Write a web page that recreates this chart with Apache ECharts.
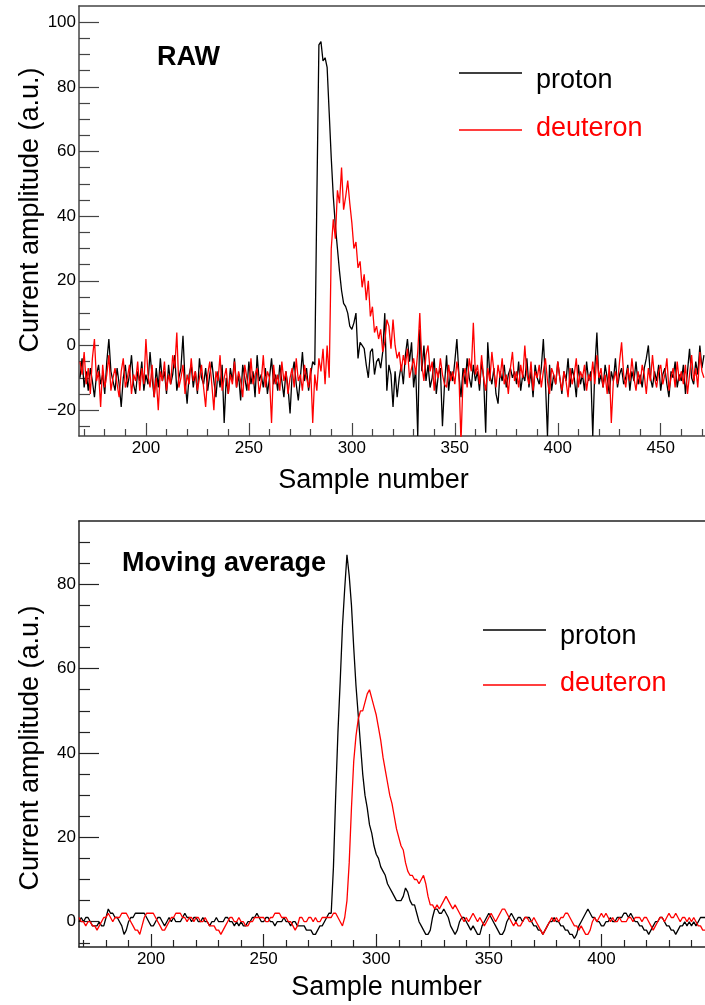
<!DOCTYPE html>
<html>
<head>
<meta charset="utf-8">
<script src="https://cdn.jsdelivr.net/npm/echarts@6/dist/echarts.min.js"></script>
<style>
  html, body { margin: 0; padding: 0; background: #fff; }
  #main { width: 705px; height: 1005px; }
</style>
</head>
<body>
<div id="main"></div>
<script>
// raw samples start at 168, moving average too
var rawStart = 168;
var maStart = 168;

var rawProton = [
  -10,-4,-13,-8,-14,-7,-11,-16,-9,-6,
  -12,-9,-15,-5,2,-8,-11,-14,-7,-12,
  -19,-10,-6,-13,-9,-3,-12,-15,-8,-11,
  -5,-14,-9,-12,-2,-10,-16,-7,-13,-4,
  -11,-8,-15,-6,-12,-9,-3,-14,-10,-7,
  3,-11,-18,-9,-6,-13,-8,-15,-4,-10,
  -12,-7,-14,-9,-5,-11,-16,-8,-13,-6,
  -24,-10,-15,-7,-11,-4,-13,-9,-17,-6,
  -10,-14,-5,-12,-8,-16,-3,-11,-9,-13,
  -7,-15,-10,-4,-12,-9,-14,-6,-11,-16,
  -8,-13,-21,-9,-5,-12,-17,-10,-2,-11,
  -7,-14,-9,-5,-6,
  45,93,94,88,89,86,72,58,46,37,
  30,23,17,13,12,10,6,5,7,10,
  -4,1,0,-1,-6,-10,-2,-1,-9,-5,
  -4,-7,-2,10,-14,-6,-9,-19,-8,-16,
  -10,-6,-12,-3,2,-5,1,-13,-7,-28,
  5,-8,0,-11,-6,-13,-10,-4,-15,-9,
  -7,-25,-12,-3,-14,-8,-11,-5,2,-9,
  -16,-7,-12,-4,-10,-13,-6,-11,-8,-14,
  -5,-10,-27,1,-9,-12,-7,-15,-18,-8,
  -11,-6,-13,-9,-7,-10,-8,-12,-5,-14,
  -9,-11,-4,-13,-8,-16,-6,-10,-12,-7,
  2,-11,-28,-6,-14,-9,-12,-5,-10,-15,
  -8,-11,-4,-13,-7,-10,-16,-6,-12,-9,
  -14,-5,-11,-8,-28,-7,4,-12,-9,-13,
  -6,-10,-15,-8,-11,-4,-13,-9,-7,-12,
  -10,-6,-14,-8,-11,-5,-12,-9,-13,-7,
  -4,0,-10,-13,-8,-11,-6,-14,-9,-7,
  -12,-16,-8,-10,-5,-13,-9,-11,-6,-15,
  -8,-1,-10,-12,-5,-9,0,-7,-3
];

var rawDeuteron = [
  -5,-9,-2,-12,-7,-15,-4,2,-11,-8,
  -19,-6,-13,-9,-3,-14,-10,-7,-12,-16,
  -8,-4,-13,-10,-6,-15,-9,-11,-5,-14,
  -7,-12,2,-9,-13,-6,-16,-10,-20,-8,
  -11,-5,-14,-9,-12,-3,-7,4,-13,-10,
  -6,-15,-9,-12,-4,-11,-8,-14,-10,-6,
  -13,-19,-9,-5,-12,-20,-8,-11,-3,-14,
  -10,-7,-15,-9,-12,-5,-13,-8,-11,-16,
  -6,-10,-14,-4,-12,-9,-7,-15,-11,-3,
  -13,-8,-10,-24,-6,-12,-9,-14,-5,-11,
  -8,-15,-10,-7,-13,-4,-11,-9,-14,-6,
  -10,-13,-7,-24,-9,
  -14,-4,-8,-1,-12,0,-10,
  30,39,33,48,44,55,42,46,51,44,
  38,30,32,24,26,18,22,14,20,9,
  12,4,6,2,5,-2,1,8,6,-1,
  8,0,-4,-2,-8,-3,-6,-1,-10,-7,
  -4,-9,-2,10,-6,-11,-3,0,-8,-5,
  -14,-7,-10,-4,-9,-12,-13,-6,-11,-8,
  -12,-5,-9,-30,-10,-7,-13,-4,-8,7,
  -9,-6,-12,-3,-10,-14,-7,-11,-2,-8,
  -13,-6,-10,-4,-12,-9,-15,-7,-2,-11,
  -8,-13,-6,-10,0,-9,-12,-5,-14,-8,
  -10,-6,-13,-8,-4,-11,-15,-7,-9,-12,
  -5,-10,-14,-8,-11,-16,-7,-12,-9,-4,
  -13,-8,-10,-6,-14,-9,-11,-5,-12,-3,
  -10,-7,-13,-9,-15,-6,-24,-11,-8,-12,
  -5,1,-9,-13,-7,-11,-4,-10,-14,-8,
  -12,-6,-9,-15,-7,-11,-3,-10,-13,-8,
  -6,-12,-9,-4,-14,-10,-7,-13,-5,-11,
  -8,-12,-6,-15,-9,-3,-11,-7,-13,-2,
  -8,-10
];

var maProton = [
  0,1,0,1,1,0,-1,-1,-1,0,
  -1,-1,1,3,2,2,1,1,0,-1,
  -3,-2,0,1,1,2,2,2,2,2,
  1,0,-1,-1,0,1,1,0,-1,0,
  1,0,1,0,0,0,1,2,1,1,
  0,1,1,0,0,1,0,0,-1,0,
  0,1,0,0,0,1,1,0,0,-1,
  0,-1,0,-1,-1,0,0,1,1,2,
  1,0,0,1,1,0,0,-1,0,0,
  0,1,0,0,-1,0,0,-1,-1,-1,
  -1,-2,-2,-2,-3,-3,-2,-1,-1,0,
  1,2,
  2,13,30,45,57,70,79,87,82,75,
  65,56,49,42,35,30,27,23,21,18,
  16,15,13,12,11,9,8,7,6,5,
  5,5,6,8,7,5,4,4,2,0,
  -1,-2,-3,-3,-2,1,3,3,2,2,
  3,2,1,-1,-2,-3,-2,0,1,1,
  0,-1,-2,-1,-2,-3,-3,-1,0,1,
  2,1,0,-1,-2,-3,-3,-2,0,1,
  2,1,0,1,1,0,1,1,1,0,
  -1,-1,-2,-2,-3,-2,-1,0,0,1,
  0,0,-1,-1,-2,-2,-3,-3,-4,-3,
  -1,0,1,2,3,2,1,1,0,0,
  -1,-1,0,0,1,0,0,1,1,1,
  2,2,1,2,1,0,0,-1,-1,-2,
  -2,-3,-2,-1,0,0,1,1,0,-1,
  -1,-2,-2,-3,-2,-1,-1,0,-1,0,
  -1,0,-1,0,1,1,1
];

var maDeuteron = [
  1,0,0,-1,0,0,-1,-1,-2,-1,
  0,1,1,2,1,0,1,1,1,2,
  2,2,1,0,-1,-2,-2,-3,-1,1,
  2,2,2,2,1,0,-1,-2,-2,-1,
  0,1,1,2,2,2,1,1,0,1,
  1,0,1,1,0,0,1,0,-1,-1,
  -1,-2,-2,-3,-2,-1,0,1,1,0,
  0,1,0,0,-1,-1,0,0,1,1,
  1,1,1,0,0,1,1,2,2,2,
  1,1,1,0,0,-1,-2,-1,1,1,
  0,0,1,1,0,1,0,0,1,1,
  1,1,1,2,2,1,0,-1,
  1,5,14,27,38,44,48,50,50,52,
  54,55,53,51,49,46,43,39,36,33,
  30,28,25,22,20,18,17,14,12,11,
  11,10,10,9,10,11,9,6,4,4,
  3,4,3,4,5,6,5,4,3,4,
  3,2,1,0,
  1,0,1,2,1,0,1,0,-1,0,
  1,2,1,0,1,2,3,3,2,1,
  0,-1,0,-1,-1,0,1,1,0,0,
  1,0,-1,-2,-3,-2,-1,0,1,0,
  1,0,1,1,2,2,1,0,-1,-1,
  -2,-1,-2,-3,-3,-2,0,1,0,1,
  2,1,2,1,0,1,0,0,1,0,
  0,0,1,1,0,1,1,1,0,1,
  1,0,-1,-2,-1,0,1,1,0,1,
  2,1,1,2,1,0,1,1,0,1,
  0,1,0,-1,-1,-2,-2
];

// tick positions and labels
var rawXMajor = [200, 250, 300, 350, 400, 450];
var rawXMinor = [170,180,190,210,220,230,240,260,270,280,290,310,320,330,340,360,370,380,390,410,420,430,440,460,470];
var rawYMajor = [-20, 0, 20, 40, 60, 80, 100];
var rawYMinor = [-25,-15,-10,-5,5,10,15,25,30,35,45,50,55,65,70,75,85,90,95];
var maXMajor = [200, 250, 300, 350, 400];
var maXMinor = [170,180,190,210,220,230,240,260,270,280,290,310,320,330,340,360,370,380,390,410,420,430,440];
var maYMajor = [0, 20, 40, 60, 80];
var maYMinor = [-5,5,10,15,25,30,35,45,50,55,65,70,75,85,90];

var seriesNames = ['proton', 'deuteron'];
var seriesColors = ['#000000', '#ff0000'];
var panelTitles = ['RAW', 'Moving average'];

var FONT = 'Liberation Sans, Arial, Helvetica, sans-serif';

// legend keys: a 63px line placed at the top (text sits lower) or bottom (text sits higher)
// of an otherwise empty box; the dot is 0.001 wide so it never shows
function keyLineTop(h) { return 'path://M0,0H63V1.6H0Z M0,' + h + 'H0.001V' + (h + 0.001) + 'H0Z'; }
function keyLineBottom(h) { return 'path://M0,0H0.001V0.001H0Z M0,' + (h - 1.6) + 'H63V' + h + 'H0Z'; }

function pairs(start, vals) {
  return vals.map(function (v, i) { return [start + i, v]; });
}
function minus(v) { return String(v).replace('-', '\u2212'); }

function xAxes(grid, min, max, major, minor, nameGap, namePad, lineColor) {
  return [{
    type: 'value', gridIndex: grid, min: min, max: max, position: 'bottom',
    name: 'Sample number', nameLocation: 'middle', nameGap: nameGap,
    nameTextStyle: { fontFamily: FONT, fontSize: 27, color: '#000', padding: namePad },
    axisLine: { show: true, onZero: false, lineStyle: { color: lineColor, width: 1.5 } },
    axisTick: { show: true, inside: true, length: 13, customValues: major, lineStyle: { color: lineColor, width: 1.2 } },
    axisLabel: { customValues: major, fontFamily: FONT, fontSize: 17, color: '#000', margin: 4 },
    splitLine: { show: false }
  }, {
    type: 'value', gridIndex: grid, min: min, max: max, position: 'bottom',
    axisLine: { show: false, onZero: false },
    axisTick: { show: true, inside: true, length: 7, customValues: minor, lineStyle: { color: lineColor, width: 1.2 } },
    axisLabel: { show: false },
    splitLine: { show: false }
  }, {
    type: 'value', gridIndex: grid, min: min, max: max, position: 'top',
    axisLine: { show: true, onZero: false, lineStyle: { color: lineColor, width: 1.5 } },
    axisTick: { show: false }, axisLabel: { show: false }, splitLine: { show: false }
  }];
}

function yAxes(grid, min, max, major, minor, namePad, lineColor) {
  return [{
    type: 'value', gridIndex: grid, min: min, max: max, position: 'left',
    name: 'Current amplitude (a.u.)', nameLocation: 'middle', nameGap: 35, nameRotate: 90,
    nameMoveOverlap: false,
    nameTextStyle: { fontFamily: FONT, fontSize: 27, color: '#000', padding: namePad },
    axisLine: { show: true, onZero: false, lineStyle: { color: lineColor, width: 1.5 } },
    axisTick: { show: true, inside: true, length: 20, customValues: major, lineStyle: { color: lineColor, width: 1.2 } },
    axisLabel: { customValues: major, fontFamily: FONT, fontSize: 17, color: '#000', margin: 3, formatter: minus },
    splitLine: { show: false }
  }, {
    type: 'value', gridIndex: grid, min: min, max: max, position: 'left',
    axisLine: { show: false, onZero: false },
    axisTick: { show: true, inside: true, length: 11, customValues: minor, lineStyle: { color: lineColor, width: 1.2 } },
    axisLabel: { show: false },
    splitLine: { show: false }
  }];
}

function line(name, color, xi, yi, data) {
  return {
    name: name, type: 'line', xAxisIndex: xi, yAxisIndex: yi,
    data: data, showSymbol: false, symbol: 'none',
    lineStyle: { color: color, width: 1.3 }, itemStyle: { color: color },
    clip: true
  };
}

// one legend entry per key, so each text can sit at its own height against its line
function legendItem(idx, top, left, icon, iconH) {
  return {
    orient: 'vertical', top: top, left: left, padding: 0,
    icon: icon, itemWidth: 63, itemHeight: iconH,
    selectedMode: false,
    textStyle: { fontFamily: FONT, fontSize: 27, lineHeight: 30, padding: [0, 0, 0, 9] },
    data: [{ name: seriesNames[idx], textStyle: { color: seriesColors[idx] } }]
  };
}

var chart = echarts.init(document.getElementById('main'), null, { renderer: 'canvas' });

var option = {
  backgroundColor: '#fff',
  animation: false,
  title: [
    { text: panelTitles[0], left: 157, top: 44, padding: 0,
      textStyle: { fontFamily: FONT, fontSize: 27, fontWeight: 'bold', color: '#000', lineHeight: 27 } },
    { text: panelTitles[1], left: 122, top: 550, padding: 0,
      textStyle: { fontFamily: FONT, fontSize: 27, fontWeight: 'bold', color: '#000', lineHeight: 27 } }
  ],
  legend: [
    legendItem(0, 65.7, 459, keyLineTop(17), 17),
    legendItem(1, 114, 459, keyLineBottom(3.6), 3.6),
    legendItem(0, 621.2, 483, keyLineTop(14), 14),
    legendItem(1, 668.5, 483, keyLineBottom(4.6), 4.6)
  ],
  grid: [
    { left: 79, top: 6, width: 626, height: 430 },
    { left: 79, top: 521, width: 626, height: 426 }
  ],
  xAxis: xAxes(0, 167.5, 471.5, rawXMajor, rawXMinor, 31, [0, 37, 0, 0], '#444')
    .concat(xAxes(1, 168, 446, maXMajor, maXMinor, 27, [0, 11, 0, 0], '#222')),
  yAxis: yAxes(0, -28, 105, rawYMajor, rawYMinor, [0, 0, 0, 22], '#444')
    .concat(yAxes(1, -6, 95, maYMajor, maYMinor, [0, 28, 0, 0], '#222')),
  series: [
    line(seriesNames[0], seriesColors[0], 0, 0, pairs(rawStart, rawProton)),
    line(seriesNames[1], seriesColors[1], 0, 0, pairs(rawStart, rawDeuteron)),
    line(seriesNames[0], seriesColors[0], 3, 2, pairs(maStart, maProton)),
    line(seriesNames[1], seriesColors[1], 3, 2, pairs(maStart, maDeuteron))
  ]
};

chart.setOption(option);
</script>
</body>
</html>
